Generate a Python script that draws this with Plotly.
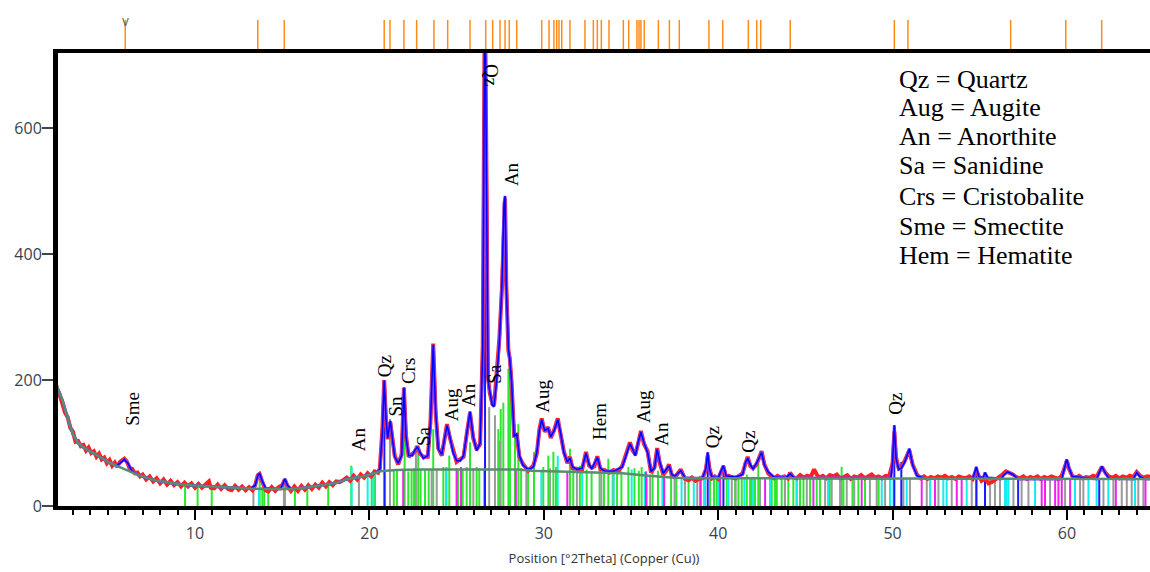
import plotly.graph_objects as go

# ---------------- data (2Theta, counts) ----------------
bg_x = [2.0, 2.2, 2.4, 2.7, 3.0, 3.3, 3.6, 3.9, 4.5, 5.0, 5.5, 6.0, 6.4, 6.75, 7.7, 8.5, 9.2, 10.2, 11.5, 12.5,
        13.2, 14.5, 15.5, 16.3, 17.3, 18.0, 18.8, 19.8, 20.4, 20.6, 21.5, 23.0, 26.0, 28.5, 29.3, 31.0, 33.0,
        34.5, 36.0, 37.5, 39.0, 46.0, 55.0, 65.0]
bg_y = [195, 182, 168, 140, 114, 100, 93, 88, 79, 70, 64, 58, 53, 49, 41, 37, 34, 32, 30, 28,
        27.5, 27, 27, 29, 33, 36, 43, 48, 53, 55, 57, 58, 58, 58, 56, 55, 53,
        52, 48, 45, 44, 44, 43, 43]

calc_x = [2.0, 2.2, 2.4, 2.7, 3.0, 3.3, 3.6, 3.9, 4.5, 5.0, 5.5, 5.7, 5.95, 6.15, 6.4, 6.75, 7.7, 8.5, 9.2, 10.2,
          11.5, 12.5, 13.2, 13.45, 13.6, 13.7, 13.85, 14.05, 14.5, 14.9, 15.05, 15.15, 15.3, 15.5, 16.3, 17.3,
          18.0, 18.8, 19.8, 20.4, 20.6, 20.75, 20.85, 20.95, 21.05, 21.2, 21.3, 21.45, 21.65, 21.85, 21.98,
          22.1, 22.25, 22.45, 22.6, 22.75, 22.9, 23.1, 23.35, 23.5, 23.66, 23.8, 23.95, 24.15, 24.3, 24.45,
          24.6, 24.8, 25.0, 25.2, 25.4, 25.6, 25.77, 25.95, 26.15, 26.35, 26.5, 26.6, 26.65, 26.72, 26.8,
          26.9, 27.05, 27.15, 27.3, 27.45, 27.6, 27.72, 27.78, 27.85, 27.97, 28.05, 28.15, 28.3, 28.45,
          28.6, 28.8, 29.1, 29.4, 29.6, 29.75, 29.88, 30.05, 30.25, 30.4, 30.6, 30.8, 30.95, 31.15, 31.35,
          31.5, 31.65, 31.9, 32.2, 32.42, 32.6, 32.75, 33.07, 33.25, 33.5, 34.0, 34.5, 34.8, 34.94, 35.1,
          35.25, 35.4, 35.57, 35.75, 35.95, 36.15, 36.35, 36.5, 36.65, 36.85, 37.18, 37.35, 37.5, 37.85,
          38.1, 38.5, 39.1, 39.3, 39.4, 39.5, 39.65, 40.0, 40.2, 40.3, 40.45, 41.0, 41.4, 41.55, 41.69,
          41.85, 42.0, 42.2, 42.49, 42.65, 42.87, 43.2, 43.9, 44.12, 44.35, 45.5, 46.0, 49.9, 50.0, 50.1,
          50.2, 50.35, 50.5, 50.7, 50.96, 51.15, 51.4, 51.8, 54.6, 54.8, 54.95, 55.2, 55.3, 55.45, 56.2,
          56.4, 56.6, 56.9, 57.2, 59.7, 59.9, 59.98, 60.1, 60.3, 61.7, 61.9, 62.0, 62.2, 62.4, 63.8, 64.0,
          64.2, 64.5, 65.0]
calc_y = [195, 182, 168, 140, 114, 100, 93, 88, 79, 70, 64, 68, 74, 68, 55, 49, 41, 37, 34, 32,
          30, 28, 27.5, 33, 48, 52, 40, 28, 27, 27, 36, 43, 33, 27, 29, 33,
          36, 43, 48, 53, 58, 120, 199, 140, 108, 135, 110, 78, 68, 80, 188,
          110, 80, 80, 88, 94, 85, 76, 80, 130, 256, 150, 90, 82, 105, 128,
          112, 85, 72, 72, 80, 115, 150, 110, 88, 100, 250, 725, 740, 500, 200,
          182, 160, 158, 200, 260, 350, 480, 492, 350, 250, 232, 200, 110, 115,
          80, 65, 58, 62, 85, 120, 137, 120, 123, 110, 120, 137, 118, 85, 70,
          76, 62, 58, 60, 84, 66, 59, 77, 60, 55, 55, 62, 85, 99, 90,
          80, 100, 117, 100, 85, 55, 60, 90, 70, 52, 64, 50, 47, 56,
          45, 44, 44, 60, 85, 58, 46, 45, 56, 64, 48, 46, 50, 68, 76,
          65, 59, 68, 85, 65, 54, 46, 45, 51, 45, 45, 44, 44, 70, 128,
          75, 58, 60, 70, 91, 65, 48, 44, 43.5, 62, 46, 45, 53, 45, 43,
          50, 54, 50, 43, 43, 65, 74, 62, 47, 43, 58, 63, 52, 44, 43, 53,
          46, 43, 43]

obs_x = [2.0, 2.1, 2.2, 2.3, 2.4, 2.55, 2.7, 2.85, 3.0, 3.15, 3.3, 3.45, 3.6, 3.75, 3.9, 4.05, 4.2, 4.35, 4.5,
         4.65, 4.8, 4.95, 5.1, 5.25, 5.4, 5.55, 5.7, 5.85, 5.95, 6.1, 6.25, 6.4, 6.55, 6.7, 6.85, 7.0, 7.2,
         7.4, 7.6, 7.8, 8.0, 8.2, 8.4, 8.6, 8.8, 9.0, 9.2, 9.4, 9.6, 9.8, 10.0, 10.2, 10.4, 10.6, 10.8,
         10.9, 11.1, 11.3, 11.5, 11.7, 11.9, 12.1, 12.3, 12.5, 12.7, 12.9, 13.1, 13.3, 13.45, 13.6, 13.7,
         13.85, 14.05, 14.2, 14.4, 14.6, 14.8, 15.0, 15.15, 15.3, 15.5, 15.7, 15.9, 16.1, 16.3, 16.5,
         16.7, 16.9, 17.1, 17.3, 17.5, 17.7, 17.9, 18.1, 18.3, 18.5, 18.7, 18.9, 19.1, 19.3, 19.5, 19.7,
         19.9, 20.1, 20.3, 20.5, 20.6, 20.75, 20.85, 20.95, 21.05, 21.2, 21.3, 21.45, 21.65, 21.85, 21.98,
         22.1, 22.25, 22.45, 22.6, 22.75, 22.9, 23.1, 23.35, 23.5, 23.66, 23.8, 23.95, 24.15, 24.3, 24.45,
         24.6, 24.8, 25.0, 25.2, 25.4, 25.6, 25.77, 25.95, 26.15, 26.35, 26.5, 26.6, 26.65, 26.72, 26.8,
         26.9, 27.05, 27.15, 27.3, 27.45, 27.6, 27.72, 27.78, 27.85, 27.97, 28.05, 28.15, 28.3, 28.45,
         28.6, 28.8, 29.1, 29.4, 29.6, 29.75, 29.88, 30.05, 30.25, 30.4, 30.6, 30.8, 30.95, 31.15, 31.35,
         31.5, 31.65, 31.9, 32.2, 32.42, 32.6, 32.75, 32.9, 33.07, 33.25, 33.5, 33.75, 34.0, 34.25, 34.5,
         34.8, 34.94, 35.1, 35.25, 35.4, 35.57, 35.75, 35.95, 36.15, 36.35, 36.5, 36.65, 36.85, 37.0,
         37.18, 37.35, 37.5, 37.65, 37.85, 38.1, 38.3, 38.5, 38.7, 38.9, 39.1, 39.3, 39.4, 39.5, 39.65,
         39.8, 40.0, 40.2, 40.3, 40.45, 40.6, 40.8, 41.0, 41.2, 41.4, 41.55, 41.69, 41.85, 42.0, 42.2,
         42.49, 42.65, 42.87, 43.05, 43.2, 43.4, 43.6, 43.8, 44.0, 44.12, 44.3, 44.5, 44.7, 44.9, 45.1,
         45.3, 45.5, 45.65, 45.8, 46.0, 46.2, 46.4, 46.6, 46.8, 47.0, 47.2, 47.4, 47.6, 47.8, 48.0, 48.2,
         48.4, 48.6, 48.8, 49.0, 49.2, 49.4, 49.6, 49.8, 50.0, 50.1, 50.2, 50.35, 50.5, 50.7, 50.96,
         51.15, 51.4, 51.6, 51.8, 52.0, 52.2, 52.4, 52.6, 52.8, 53.0, 53.2, 53.4, 53.6, 53.8, 54.0, 54.2,
         54.4, 54.6, 54.8, 54.95, 55.1, 55.3, 55.5, 55.7, 55.9, 56.1, 56.3, 56.5, 56.7, 56.9, 57.1, 57.3,
         57.5, 57.7, 57.9, 58.1, 58.3, 58.5, 58.7, 58.9, 59.1, 59.3, 59.5, 59.7, 59.9, 60.0, 60.1, 60.3,
         60.5, 60.7, 60.9, 61.1, 61.3, 61.5, 61.7, 61.9, 62.0, 62.2, 62.4, 62.6, 62.8, 63.0, 63.2, 63.4,
         63.6, 63.8, 64.0, 64.2, 64.4, 64.6, 64.8]
obs_y = [197, 184, 180, 170, 165, 148, 141, 124, 118, 102, 103, 95, 97, 88, 93, 84, 87, 78, 83,
         74, 77, 68, 73, 64, 69, 62, 70, 72, 75, 70, 60, 59, 52, 53, 47, 50, 42,
         47, 39, 44, 36, 42, 34, 40, 33, 38, 31, 37, 31, 36, 29, 35, 29, 34, 39,
         29, 28, 34, 27, 33, 27, 25, 32, 26, 31, 25, 30, 25, 33, 49, 51,
         39, 25, 23, 30, 24, 30, 33, 42, 32, 24, 31, 24, 32, 26, 33,
         27, 34, 29, 37, 31, 38, 33, 39, 38, 41, 45, 40, 48, 42, 50, 45,
         52, 47, 55, 53, 60, 125, 200, 138, 106, 133, 108, 80, 66, 82, 187,
         112, 78, 82, 86, 95, 83, 78, 78, 133, 258, 148, 92, 80, 108, 130,
         110, 87, 70, 74, 78, 118, 148, 108, 90, 98, 255, 720, 735, 505, 205,
         180, 162, 160, 205, 265, 345, 478, 488, 352, 246, 235, 198, 112, 113,
         78, 67, 56, 64, 83, 122, 139, 118, 125, 108, 121, 139, 116, 87, 68,
         78, 60, 59, 58, 86, 64, 61, 63, 79, 58, 57, 53, 57, 54, 64,
         87, 101, 88, 82, 98, 119, 98, 87, 53, 62, 92, 68, 50, 55,
         66, 48, 46, 50, 58, 43, 41, 45, 40, 43, 44, 58, 80, 60, 44,
         47, 43, 58, 63, 46, 48, 45, 44, 48, 52, 66, 78, 63, 60, 66,
         87, 66, 52, 47, 44, 48, 45, 47, 44, 53, 46, 44, 49, 45, 48,
         46, 58, 50, 45, 48, 44, 49, 47, 50, 44, 46, 49, 43, 47, 45, 49,
         44, 47, 50, 45, 47, 44, 48, 47, 68, 118, 77, 60, 62, 72, 88,
         66, 50, 44, 47, 43, 46, 44, 47, 45, 48, 44, 46, 43, 47, 45, 44,
         47, 43, 55, 46, 40, 44, 36, 38, 42, 45, 50, 55, 53, 50, 46, 44,
         47, 43, 46, 44, 47, 43, 46, 44, 47, 45, 43, 48, 66, 72, 60, 48,
         45, 48, 44, 46, 45, 48, 46, 57, 62, 53, 47, 45, 48, 44, 47, 45,
         48, 46, 54, 48, 45, 47, 46]

# reference pattern markers above the frame (2Theta)
ref_ticks = [6.0, 13.6, 15.12, 20.85, 21.18, 21.98, 22.71, 23.70, 24.49, 25.77, 26.67, 27.07, 27.49, 27.78,
             28.02, 28.45, 29.88, 30.30, 30.58, 30.74, 30.87, 31.03, 31.50, 32.36, 32.84, 33.07, 33.30,
             33.74, 34.56, 34.87, 35.34, 35.46, 35.57, 35.76, 36.57, 37.20, 37.77, 39.47, 40.26, 41.73,
             42.21, 42.44, 44.13, 50.10, 50.88, 56.77, 59.93, 61.99]

# stick patterns: positions and heights per phase colour
green_pos = [9.43, 10.15, 10.96, 13.71, 13.86, 13.97, 14.2, 15.16, 15.73, 16.44, 17.64, 18.96, 20.13, 20.32,
             20.9, 21.4, 21.58, 22.02, 22.23, 22.42, 22.56, 22.8, 22.94, 23.19, 23.4, 23.66, 24.24, 24.42,
             24.58, 25.08, 25.35, 25.58, 25.77, 26.15, 26.3, 27.39, 27.53, 27.68, 27.97, 28.06, 28.35, 28.54,
             28.7, 29.1, 29.44, 29.97, 30.26, 30.55, 30.7, 31.5, 31.69, 32.07, 32.46, 32.74, 33.2, 33.45,
             33.7, 33.95, 34.2, 34.45, 34.85, 35.2, 35.45, 35.61, 36.24, 36.55, 36.9, 37.3, 37.6, 38.3,
             38.96, 39.24, 39.53, 39.76, 39.92, 40.49, 40.97, 41.16, 41.35, 41.64, 41.83, 41.92, 42.11,
             42.3, 43.07, 43.26, 43.36, 43.64, 44.02, 44.31, 44.69, 44.89, 45.27, 45.65, 45.84, 46.4,
             47.08, 47.18, 47.7, 48.04, 48.42, 49.2]
green_h = [35, 35, 33, 43, 30, 30, 30, 43, 30, 32, 35, 64, 50, 50,
           54, 56, 56, 189, 55, 57, 60, 88, 57, 57, 58, 122, 62, 62,
           80, 58, 57, 62, 101, 62, 60, 122, 154, 164, 218, 222, 130, 130,
           60, 58, 86, 62, 80, 86, 62, 91, 60, 64, 58, 55, 55, 56,
           75, 52, 52, 55, 62, 60, 56, 62, 58, 56, 52, 50, 48, 46,
           48, 47, 45, 45, 46, 45, 45, 46, 45, 50, 46, 45, 46,
           67, 45, 45, 44, 45, 44, 45, 44, 45, 44, 46, 44, 45,
           62, 45, 44, 44, 45, 43]

cyan_pos = [13.67, 18.98, 19.9, 20.23, 24.39, 26.57, 29.86, 30.8, 32.2, 34.0, 35.04, 35.8, 36.8, 37.9,
            38.6, 39.19, 40.0, 40.6, 41.5, 42.0, 42.97, 44.5, 46.3, 49.38, 49.85, 50.05, 50.81, 52.15,
            52.91, 53.1, 54.25, 54.82, 56.45, 56.54, 56.64, 58.17, 60.46, 61.23, 61.7, 62.37, 63.9]
cyan_h = [27, 62, 48, 50, 60, 60, 55, 80, 54, 52, 58, 54, 50, 46,
          45, 45, 44, 44, 45, 46, 45, 44, 44, 44, 44, 44, 44, 44,
          44, 44, 44, 44, 44, 44, 44, 44, 44, 44, 44, 44, 44]

gray_pos = [13.35, 15.1, 19.4, 21.18, 22.67, 23.57, 23.86, 25.96, 26.87, 27.2, 27.49, 29.0, 30.36, 31.9,
            33.3, 34.0, 35.9, 36.1, 37.5, 38.1, 38.8, 40.78, 41.0, 42.4, 43.83, 44.5, 45.08, 46.13, 46.51,
            46.99, 47.37, 47.8, 48.7, 49.09, 49.57, 50.62, 51.0, 51.96, 52.63, 53.39, 54.54, 55.59, 55.87,
            56.16, 56.93, 57.4, 57.79, 59.03, 59.89, 60.75, 60.94, 62.09, 62.66, 63.14, 63.43, 63.71,
            64.09, 64.38]
gray_h = [25, 40, 43, 138, 86, 58, 58, 60, 157, 144, 104, 55, 60, 55,
          52, 52, 50, 50, 46, 45, 45, 44, 44, 44, 44, 44, 44, 44, 44,
          44, 44, 44, 44, 44, 44, 44, 44, 44, 44, 44, 44, 44, 44,
          44, 44, 44, 44, 44, 44, 44, 44, 44, 44, 44, 44, 44,
          44, 44]

magenta_pos = [21.94, 25.0, 25.25, 28.4, 31.35, 35.86, 36.9, 39.0, 40.11, 42.69, 45.46, 48.23, 51.67, 52.43,
               53.68, 53.96, 58.55, 58.74, 59.32, 59.51, 59.7, 60.18, 62.8, 64.5]
magenta_h = [59, 60, 62, 58, 55, 55, 50, 45, 45, 45, 44, 44, 44, 44,
             44, 44, 44, 44, 44, 44, 44, 44, 44, 44]

blue_pos = [20.86, 26.63, 39.4, 40.3, 50.1, 50.5, 54.8, 55.3, 57.2, 61.85]
blue_h = [199, 725, 84, 64, 128, 70, 62, 53, 44, 44]

# phase labels: text, 2Theta, counts, rotation
phase_text = ["Sme", "An", "Qz", "Sn", "Crs", "Sa", "Aug", "An", "Qz", "Sa", "An", "Aug", "Hem", "Aug",
              "An", "Qz", "Qz", "Qz"]
phase_x = [6.44, 19.35, 20.84, 21.47, 22.21, 23.07, 24.68, 25.65, 27.03, 27.2, 28.15, 29.95, 33.22, 35.69,
           36.75, 39.64, 41.77, 50.19]
phase_y = [154, 106, 222, 158, 214, 111, 160, 176, 684, 210, 526, 175, 135, 157,
           114, 109, 102, 162]
phase_angle = [-90, -90, -90, -90, -90, -90, -90, -90, 90, -90, -90, -90, -90, -90,
               -90, -90, -90, -90]

legend_lines = ["Qz = Quartz", "Aug = Augite", "An = Anorthite", "Sa = Sanidine",
                "Crs = Cristobalite", "Sme = Smectite", "Hem = Hematite"]

x_title = "Position [°2Theta] (Copper (Cu))"


# ---------------- figure ----------------
def stick_xy(pos, h):
    xs, ys = [], []
    for p, v in zip(pos, h):
        xs += [p, p, None]
        ys += [0, v, None]
    return xs, ys


fig = go.Figure()
for pos, h, col in [(green_pos, green_h, "#2ee82e"), (gray_pos, gray_h, "#9a9a9a"),
                    (cyan_pos, cyan_h, "#10eeee"), (magenta_pos, magenta_h, "#f020f0"),
                    (blue_pos, blue_h, "#1a1aff")]:
    xs, ys = stick_xy(pos, h)
    fig.add_trace(go.Scatter(x=xs, y=ys, mode="lines", line=dict(color=col, width=2),
                             hoverinfo="skip", showlegend=False))

fig.add_trace(go.Scatter(x=obs_x, y=obs_y, mode="lines", line=dict(color="#ff2020", width=4),
                         showlegend=False))
fig.add_trace(go.Scatter(x=calc_x, y=calc_y, mode="lines", line=dict(color="#8a44ee", width=3),
                         showlegend=False))
fig.add_trace(go.Scatter(x=calc_x, y=calc_y, mode="lines", line=dict(color="#0000ff", width=1.5),
                         showlegend=False))
fig.add_trace(go.Scatter(x=bg_x, y=bg_y, mode="lines", line=dict(color="#5a8c70", width=2.5),
                         showlegend=False))

shapes = []
for t in ref_ticks:
    shapes.append(dict(type="line", xref="x", yref="paper", x0=t, x1=t, y0=1.0088, y1=1.0728,
                       line=dict(color="#ff8c1a", width=1.5), layer="above"))

annotations = []
for txt, x, y, a in zip(phase_text, phase_x, phase_y, phase_angle):
    annotations.append(dict(text=txt, x=x, y=y, xref="x", yref="y", showarrow=False, textangle=a,
                            font=dict(family="Liberation Serif", size=19, color="black")))

leg_y = [0.9426, 0.8786, 0.8146, 0.7506, 0.6843, 0.6181, 0.5519]
for txt, y in zip(legend_lines, leg_y):
    annotations.append(dict(text=txt, x=0.7683, y=y, xref="paper", yref="paper", xanchor="left",
                            yanchor="middle", showarrow=False,
                            font=dict(family="Liberation Serif", size=26, color="black")))

annotations.append(dict(text="V", x=6.0, y=1.0839, xref="x", yref="paper", showarrow=False,
                        font=dict(family="DejaVu Sans", size=10, color="#555555")))

fig.update_layout(
    width=1150, height=572,
    margin=dict(l=58, r=0, t=53, b=66, pad=0, autoexpand=False),
    paper_bgcolor="white", plot_bgcolor="white",
    shapes=shapes, annotations=annotations,
    showlegend=False,
    xaxis=dict(range=[2.145, 64.76], showline=True, linecolor="black", linewidth=4, mirror=True,
               showgrid=False, zeroline=False, ticks="outside", ticklen=10, tickwidth=1.5,
               tickcolor="black", tick0=0, dtick=10, automargin=False,
               minor=dict(dtick=1, ticks="outside", ticklen=5, tickwidth=1.5, tickcolor="black"),
               tickfont=dict(family="Open Sans", size=16, color="#3a3f4f"),
               title=dict(text=x_title, font=dict(family="Open Sans", size=13, color="#333333"),
                          standoff=12)),
    yaxis=dict(range=[0, 719], showline=True, linecolor="black", linewidth=5, showgrid=False,
               zeroline=False, ticks="outside", ticklen=11, tickwidth=1.5, tickcolor="#444444",
               tick0=0, dtick=200, automargin=False, ticklabelstandoff=-3,
               tickfont=dict(family="Open Sans", size=16, color="#3a3f4f")),
)

fig.write_html("out.html", config={"displayModeBar": False},
               post_script="document.body.style.margin='0px';document.body.style.overflow='hidden';")
